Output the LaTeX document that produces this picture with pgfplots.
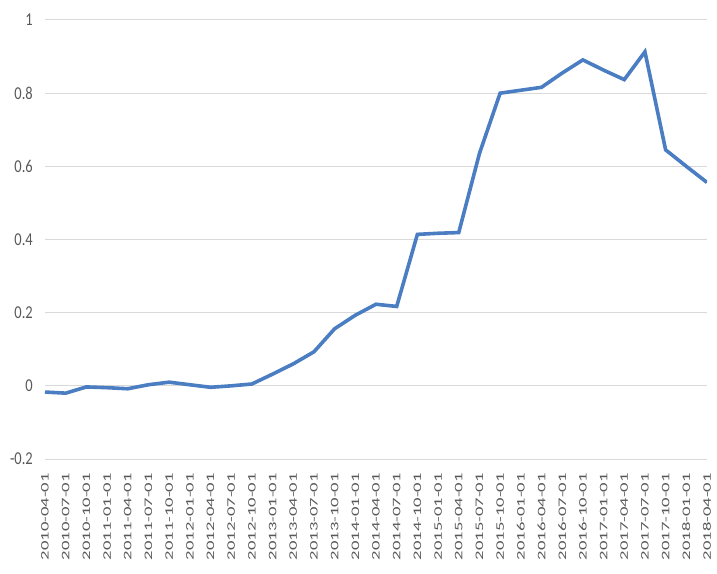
\documentclass[border=0pt]{standalone}
\usepackage{pgfplots}
\pgfplotsset{compat=1.18}
\usepackage{fontspec}
\setmainfont{Carlito}
\definecolor{seriesA}{HTML}{4A7DC2}
\definecolor{inkMuted}{HTML}{595959}
\definecolor{gridLine}{HTML}{D9D9D9}
\newcommand{\xl}[1]{\scalebox{1.62}[1]{#1}}

\begin{document}
\begin{tikzpicture}
\begin{axis}[
  scale only axis, width=662pt, height=439pt,
  xmin=0, xmax=32, ymin=-0.2, ymax=1,
  ytick={-0.2,0,0.2,0.4,0.6,0.8,1},
  xtick={0,...,32},
  xticklabels={\xl{2010-04-01},\xl{2010-07-01},\xl{2010-10-01},\xl{2011-01-01},\xl{2011-04-01},\xl{2011-07-01},\xl{2011-10-01},\xl{2012-01-01},\xl{2012-04-01},\xl{2012-07-01},\xl{2012-10-01},\xl{2013-01-01},\xl{2013-04-01},\xl{2013-07-01},\xl{2013-10-01},\xl{2014-01-01},\xl{2014-04-01},\xl{2014-07-01},\xl{2014-10-01},\xl{2015-01-01},\xl{2015-04-01},\xl{2015-07-01},\xl{2015-10-01},\xl{2016-01-01},\xl{2016-04-01},\xl{2016-07-01},\xl{2016-10-01},\xl{2017-01-01},\xl{2017-04-01},\xl{2017-07-01},\xl{2017-10-01},\xl{2018-01-01},\xl{2018-04-01}},
  yticklabel={\scalebox{1}[1.25]{\pgfmathprintnumber{\tick}}},
  /pgf/number format/assume math mode=true,
  axis line style={draw=none},
  tick style={draw=none},
  ymajorgrids, major grid style={gridLine, line width=1pt},
  x tick label style={rotate=90, anchor=east, font=\fontsize{11.5}{12}\selectfont, text=inkMuted, inner sep=0pt, xshift=-14pt},
  y tick label style={font=\fontsize{14.5}{15}\selectfont, text=inkMuted, inner sep=0pt, xshift=-12pt},
]
\addplot[seriesA, line width=3.6pt, line join=miter, mark=none] coordinates {
 (0,-0.017) (1,-0.020) (2,-0.003) (3,-0.005) (4,-0.008) (5,0.003) (6,0.010)
 (7,0.003) (8,-0.004) (9,0.000) (10,0.005) (11,0.032) (12,0.060) (13,0.093)
 (14,0.156) (15,0.193) (16,0.223) (17,0.217) (18,0.414) (19,0.417) (20,0.419)
 (21,0.635) (22,0.800) (23,0.808) (24,0.816) (25,0.855) (26,0.891) (27,0.863)
 (28,0.837) (29,0.913) (30,0.645) (31,0.600) (32,0.556)
};
\end{axis}
\path (current axis.south west) ++(-45pt,-114pt) rectangle ([shift={(10pt,20pt)}]current axis.north east);
\end{tikzpicture}
\end{document}
